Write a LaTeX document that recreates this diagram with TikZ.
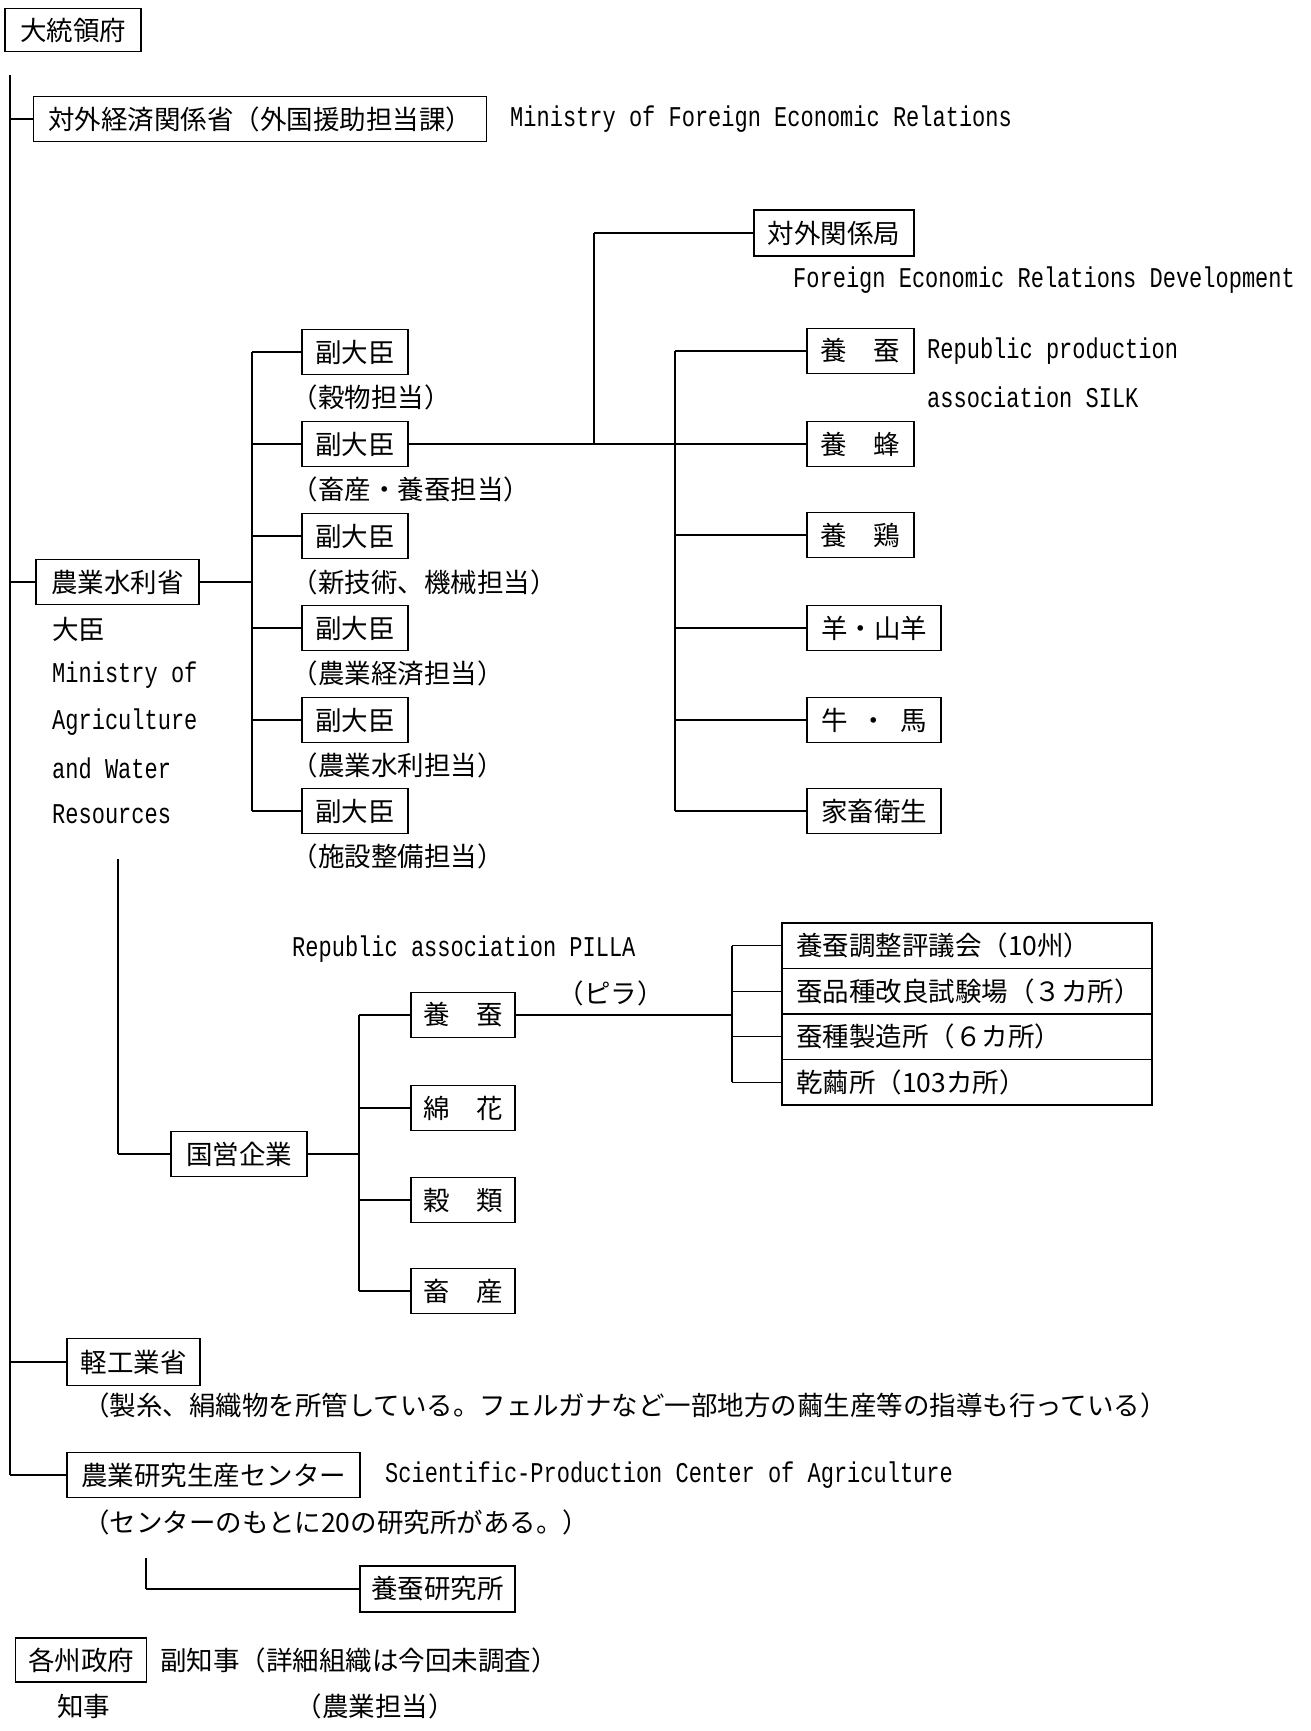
\documentclass[tikz,border=0pt]{standalone}
\usepackage{fontspec}
\newfontfamily\jpfont{Noto Sans CJK JP}
\newfontfamily\enfont{Liberation Mono}
\newcommand\jlp{\makebox[0.5em][r]{（}}
\newcommand\jrp{\makebox[0.5em][l]{）}}
\newcommand\EN[1]{\scalebox{1}[1.3]{#1}}
\tikzset{
  jpf/.style={font=\jpfont\fontsize{26.5}{32}\selectfont},
  box/.style={draw, line width=1.3pt, inner sep=0pt, minimum height=45pt, jpf},
  row/.style={draw, line width=1.3pt, inner xsep=14pt, inner ysep=0pt, text width=342pt, minimum height=45.5pt, align=left, jpf},
  jt/.style={inner sep=0pt, anchor=west, jpf},
  et/.style={inner sep=0pt, anchor=west, font=\enfont\fontsize{22}{26}\selectfont},
  trunk/.style={line width=2.4pt},
  stem/.style={line width=2pt},
  conn/.style={line width=1.1pt},
}
\begin{document}
\begin{tikzpicture}[x=1pt,y=-1pt]
\useasboundingbox[fill=white] (0,0) rectangle (1310,1731);

% top
\node[box, minimum width=136pt, minimum height=43pt] (pres) at (73,30) {大統領府};
\node[box, minimum width=453pt] (mfer) at (260,119) {対外経済関係省（外国援助担当課）};
\node[et] (mfert) at (510,119) {\EN{Ministry of Foreign Economic Relations}};

% trunk
\coordinate (ttop) at (10,75);
\coordinate (tbot) at (10,1475);
\draw[trunk] (ttop) -- (tbot);

% ministry of agriculture
\node[box, minimum width=163pt] (maw) at (117.5,582) {農業水利省};
\node[jt] (minister) at (52,629) {大臣};
\node[et] (mawe1) at (52,675) {\EN{Ministry of}};
\node[et] (mawe2) at (52,722) {\EN{Agriculture}};
\node[et] (mawe3) at (52,768) {\EN{and Water}};
\node[et] (mawe4) at (52,814) {\EN{Resources}};

% vice ministers
\node[box, minimum width=106pt] (vm1) at (355,352) {副大臣};
\node[box, minimum width=106pt] (vm2) at (355,444) {副大臣};
\node[box, minimum width=106pt] (vm3) at (355,536) {副大臣};
\node[box, minimum width=106pt] (vm4) at (355,628) {副大臣};
\node[box, minimum width=106pt] (vm5) at (355,720) {副大臣};
\node[box, minimum width=106pt] (vm6) at (355,811) {副大臣};
\node[jt] (vc1) at (305,397) {\jlp 穀物担当\jrp};
\node[jt] (vc2) at (305,489) {\jlp 畜産・養蚕担当\jrp};
\node[jt] (vc3) at (305,582) {\jlp 新技術、機械担当\jrp};
\node[jt] (vc4) at (305,673) {\jlp 農業経済担当\jrp};
\node[jt] (vc5) at (305,765) {\jlp 農業水利担当\jrp};
\node[jt] (vc6) at (305,856) {\jlp 施設整備担当\jrp};

% foreign relations dept
\node[box, minimum width=160pt, minimum height=46pt] (fer) at (834,233) {対外関係局};
\node[et] (fert) at (793,280) {\EN{Foreign Economic Relations Development}};

% right column
\node[box, minimum width=107pt] (r1) at (860.5,351) {養\hspace{1em}蚕};
\node[box, minimum width=107pt] (r2) at (860.5,444) {養\hspace{1em}蜂};
\node[box, minimum width=107pt] (r3) at (860.5,535) {養\hspace{1em}鶏};
\node[box, minimum width=134pt] (r4) at (874,628) {羊・山羊};
\node[box, minimum width=134pt] (r5) at (874,720) {牛\hspace{0.5em}・\hspace{0.5em}馬};
\node[box, minimum width=134pt] (r6) at (874,811) {家畜衛生};
\node[et] (silk1) at (927,351) {\EN{Republic production}};
\node[et] (silk2) at (927,397) {\EN{association SILK}};

% state enterprises
\node[box, minimum width=136pt] (soe) at (239,1154) {国営企業};
\node[box, minimum width=104pt] (s1) at (463,1015) {養\hspace{1em}蚕};
\node[box, minimum width=104pt] (s2) at (463,1108) {綿\hspace{1em}花};
\node[box, minimum width=104pt] (s3) at (463,1200) {穀\hspace{1em}類};
\node[box, minimum width=104pt] (s4) at (463,1291) {畜\hspace{1em}産};
\node[et] (pilla) at (292,949) {\EN{Republic association PILLA}};
\node[jt] (pillaj) at (571,993) {\jlp ピラ\jrp};

% list
\node[row] (l1) at (967,945.75) {\mbox{養蚕調整評議会（10州）}};
\node[row] (l2) at (967,991.25) {\mbox{蚕品種改良試験場（３カ所\jrp}};
\node[row] (l3) at (967,1036.75) {\mbox{蚕種製造所（６カ所）}};
\node[row] (l4) at (967,1082.25) {\mbox{乾繭所（103カ所）}};

% light industry
\node[box, minimum width=133pt, minimum height=47pt] (light) at (133.5,1362) {軽工業省};
\node[jt] (lightc) at (83,1405) {（製糸、絹織物を所管している。フェルガナなど一部地方の繭生産等の指導も行っている）};

% research center
\node[box, minimum width=293pt] (center) at (213.5,1475) {農業研究生産センター};
\node[et] (centere) at (385,1475) {\EN{Scientific-Production Center of Agriculture}};
\node[jt] (centerc) at (83,1522) {（センターのもとに20の研究所がある。）};
\node[box, minimum width=155pt, minimum height=46pt] (silkinst) at (437.5,1589) {養蚕研究所};
\coordinate (cstem) at (146,1558);

% provinces
\node[box, minimum width=131pt, minimum height=44pt] (prov) at (81,1660) {各州政府};
\node[jt] (vgov) at (160,1660) {副知事（詳細組織は今回未調査）};
\node[jt] (gov) at (57,1706) {知事};
\node[jt] (vgovc) at (309,1706) {\jlp 農業担当\jrp};

% connectors from trunk
\draw[conn] (mfer.west -| ttop) -- (mfer.west);
\draw[conn] (maw.west -| ttop) -- (maw.west);
\draw[conn] (light.west -| ttop) -- (light.west);
\draw[conn] (tbot) -- (center.west);

% ministry to vice ministers
\coordinate (vb) at (252,444);
\draw[conn] (maw.east) -- (maw.east -| vb);
\draw[stem] (vm1.west -| vb) -- (vm6.west -| vb);
\foreach \n in {vm1,vm2,vm3,vm4,vm5,vm6} \draw[conn] (\n.west -| vb) -- (\n.west);

% vm2 to right
\coordinate (fb) at (594,444);
\coordinate (rb) at (675,444);
\draw[conn] (vm2.east) -- (rb);
\draw[stem] (fb) -- (fb |- fer.west);
\draw[conn] (fb |- fer.west) -- (fer.west);
\draw[stem] (r1.west -| rb) -- (r6.west -| rb);
\foreach \n in {r1,r2,r3,r4,r5,r6} \draw[conn] (\n.west -| rb) -- (\n.west);

% ministry to state enterprises
\coordinate (ms) at (118,859);
\draw[stem] (ms) -- (ms |- soe.west);
\draw[conn] (ms |- soe.west) -- (soe.west);
\coordinate (sb) at (359,1154);
\draw[conn] (soe.east) -- (sb);
\draw[stem] (s1.west -| sb) -- (s4.west -| sb);
\foreach \n in {s1,s2,s3,s4} \draw[conn] (\n.west -| sb) -- (\n.west);

% pilla silk to list
\coordinate (lb) at (732,1015);
\draw[conn] (s1.east) -- (lb);
\draw[stem] (l1.west -| lb) -- (l4.west -| lb);
\foreach \n in {l1,l2,l3,l4} \draw[conn] (\n.west -| lb) -- (\n.west);

% center to silk institute
\draw[stem] (cstem) -- (cstem |- silkinst.west);
\draw[conn] (cstem |- silkinst.west) -- (silkinst.west);
\end{tikzpicture}
\end{document}
